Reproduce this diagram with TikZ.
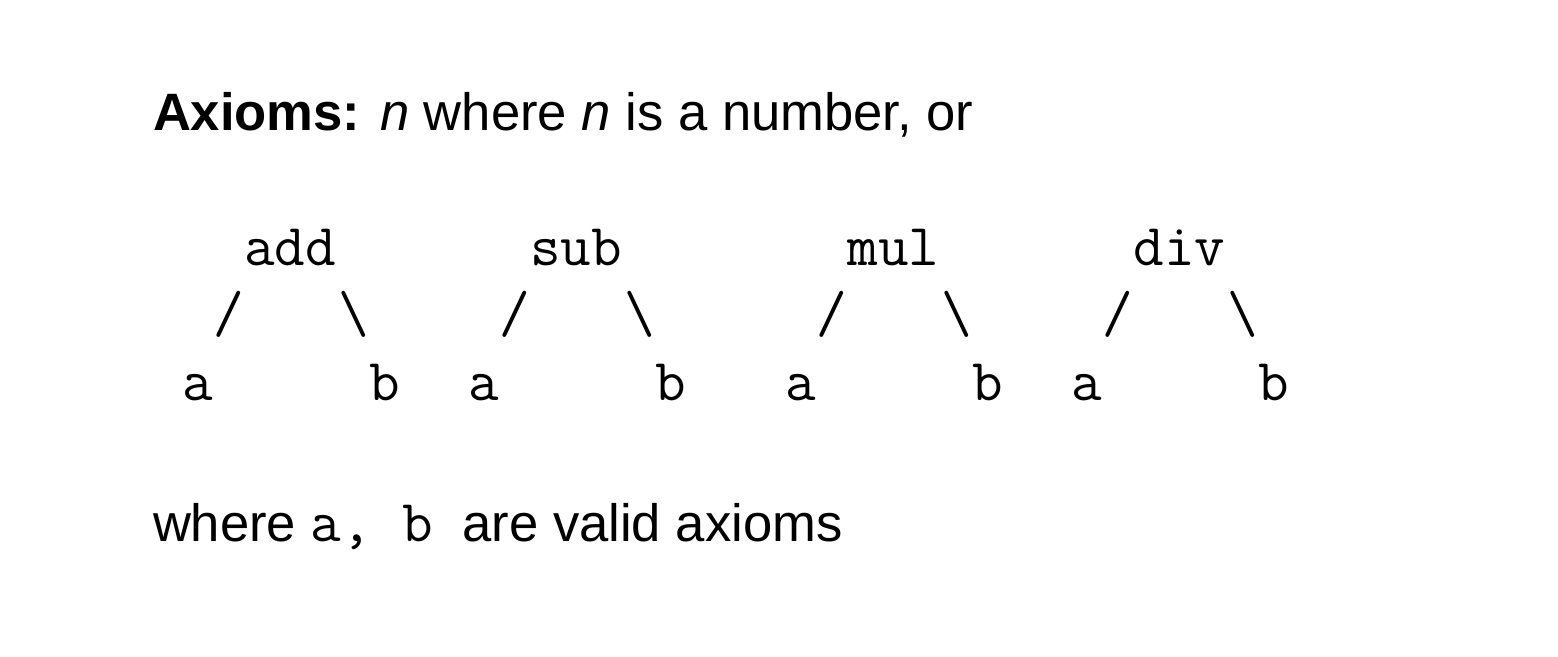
\documentclass[tikz,border=0pt]{standalone}
\usepackage{fontspec}
\setmainfont{Liberation Sans}
\begin{document}
\begin{tikzpicture}[x=1pt,y=-1pt,
  txt/.style={inner sep=0pt, outer sep=0pt, anchor=base west, font=\fontsize{52.6}{60}\selectfont},
  mono/.style={inner sep=0pt, outer sep=0pt, anchor=base west, font=\fontsize{59.4}{66}\selectfont\ttfamily}]
\useasboundingbox (0,0) rectangle (1558,656);
\node[txt] (title) at (153,130) {\textbf{Axioms:} \textit{n} where \textit{n} is a number, or};
\foreach \x/\op/\k in {182/add/1, 468/sub/2, 785/mul/3, 1071/div/4}{
  \node[mono] (op\k) at (\x+62.4,265) {\op};
  \node[mono] (sl\k) at (\x+31.2,332) {/};
  \node[mono] (bs\k) at (\x+156,332) {\textbackslash};
  \node[mono] (a\k) at (\x,400) {a};
  \node[mono] (b\k) at (\x+187.2,400) {b};
}
\node[txt] (foot) at (153,541) {where {\fontsize{59.4}{66}\selectfont\ttfamily a,~b}~ are valid axioms};
\end{tikzpicture}
\end{document}
